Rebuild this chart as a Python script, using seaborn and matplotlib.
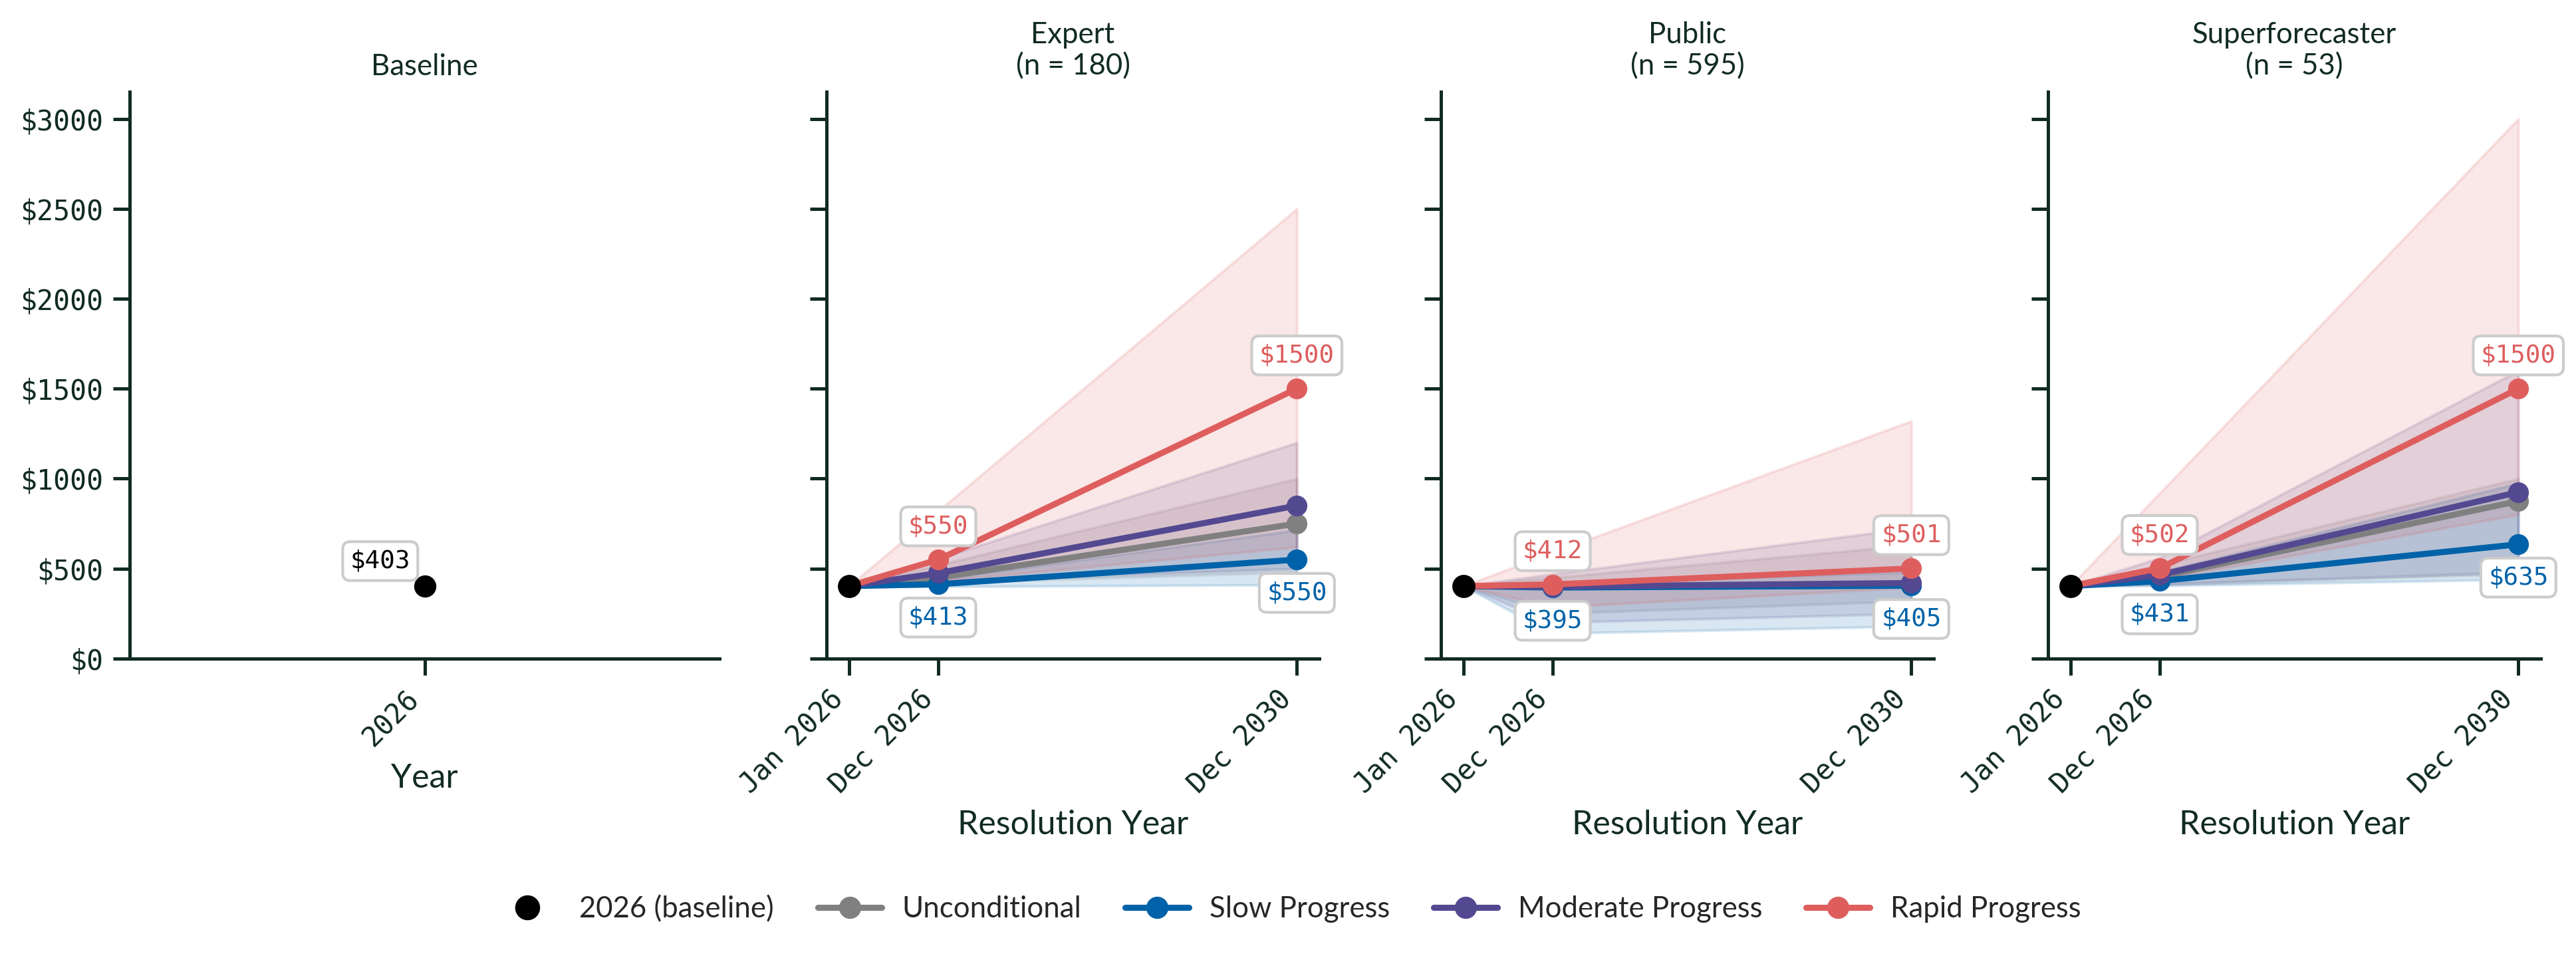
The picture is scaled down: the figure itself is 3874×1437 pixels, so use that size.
"""Forecast panels: baseline price and scenario forecasts per forecaster group."""
import matplotlib
matplotlib.use("Agg")
import matplotlib.pyplot as plt
import matplotlib.ticker as mticker
from matplotlib.lines import Line2D
import pandas as pd
import seaborn as sns

TEXT = "#112B24"
BOX_EDGE = "#CCCCCC"
SANS = "Lato"
MONO = "DejaVu Sans Mono"

SCENARIOS = ["Unconditional", "Slow Progress", "Moderate Progress", "Rapid Progress"]
COLORS = ["#808080", "#0062A8", "#534991", "#DE5E5E"]
DATES = ["2026-01-01", "2026-12-31", "2030-12-31"]
DATE_LABELS = ["Jan 2026", "Dec 2026", "Dec 2030"]
BASELINE_YEAR = 2026
BASELINE_PRICE = 403
GROUPS = ["Expert", "Public", "Superforecaster"]
GROUP_N = [180, 595, 53]
Y_TICKS = [0, 500, 1000, 1500, 2000, 2500, 3000]

# rows follow SCENARIOS, columns follow DATES
EXPERT_MEDIAN = [[403, 450, 750], [403, 413, 550], [403, 475, 850], [403, 550, 1500]]
EXPERT_LOW = [[403, 420, 480], [403, 400, 410], [403, 430, 500], [403, 430, 620]]
EXPERT_HIGH = [[403, 520, 1000], [403, 440, 715], [403, 555, 1200], [403, 820, 2500]]

PUBLIC_MEDIAN = [[403, 400, 410], [403, 395, 405], [403, 400, 420], [403, 412, 501]]
PUBLIC_LOW = [[403, 250, 320], [403, 140, 180], [403, 200, 250], [403, 285, 395]]
PUBLIC_HIGH = [[403, 450, 630], [403, 420, 480], [403, 470, 725], [403, 590, 1320]]

SUPER_MEDIAN = [[403, 455, 875], [403, 431, 635], [403, 465, 925], [403, 502, 1500]]
SUPER_LOW = [[403, 410, 470], [403, 405, 440], [403, 415, 480], [403, 440, 800]]
SUPER_HIGH = [[403, 520, 1000], [403, 480, 975], [403, 560, 1600], [403, 920, 3000]]

BOTTOM = 0.3111
HEIGHT = 0.5929
PANEL_LEFTS = [0.05034, 0.32086, 0.55937, 0.79504]
PANEL_WIDTHS = [0.22896, 0.19127, 0.19127, 0.19127]


def _style_axis(ax):
    sns.despine(ax=ax)
    for side in ("left", "bottom"):
        ax.spines[side].set_color(TEXT)
        ax.spines[side].set_linewidth(1.2)
    ax.tick_params(axis="both", left=True, bottom=True, length=6, width=1.2,
                   color=TEXT, labelcolor=TEXT, labelsize=10)
    ax.set_ylim(0, 3150)
    ax.set_yticks(Y_TICKS)
    ax.yaxis.set_major_formatter(mticker.FuncFormatter(lambda v, _: f"${v:.0f}"))
    for label in ax.get_xticklabels() + ax.get_yticklabels():
        label.set_fontfamily(MONO)


def _label(ax, x, value, color, dy, dx=0):
    ax.annotate(
        f"${value:.0f}", xy=(x, value), xytext=(dx, dy), textcoords="offset points",
        ha="center", va="center", fontsize=9, family=MONO, color=color, zorder=6,
        bbox=dict(boxstyle="round,pad=0.3", fc="white", ec=BOX_EDGE, lw=1)
    )


def _baseline_panel(ax):
    sns.scatterplot(x=[BASELINE_YEAR], y=[BASELINE_PRICE], color="black", s=64,
                    linewidth=0, zorder=5, ax=ax)
    _label(ax, BASELINE_YEAR, BASELINE_PRICE, "black", dy=9, dx=-16)
    ax.set_xlim(BASELINE_YEAR - 0.5, BASELINE_YEAR + 0.5)
    ax.set_xticks([BASELINE_YEAR])
    ax.set_xticklabels([str(BASELINE_YEAR)], rotation=45, ha="right")
    ax.set_title("Baseline", fontsize=10.5, color=TEXT, family=SANS)
    ax.set_xlabel("Year", fontsize=12, color=TEXT, family=SANS)
    ax.set_ylabel("")
    _style_axis(ax)


def _forecast_panel(ax, group, n, median, low, high):
    dates = pd.to_datetime(DATES)
    for color, lo, hi in zip(COLORS, low, high):
        ax.fill_between(dates, lo, hi, color=color, alpha=0.15, linewidth=1)
    for color, m in zip(COLORS, median):
        sns.lineplot(x=dates, y=m, color=color, marker="o", markersize=7.5,
                     markeredgewidth=0, linewidth=2.2, ax=ax)
    sns.scatterplot(x=[dates[0]], y=[BASELINE_PRICE], color="black", s=70,
                    linewidth=0, zorder=5, ax=ax)
    slow, rapid = median[1], median[3]
    for i in (1, 2):
        _label(ax, dates[i], rapid[i], COLORS[3], dy=12)
        _label(ax, dates[i], slow[i], COLORS[1], dy=-12)
    ax.set_xticks(dates)
    ax.set_xticklabels(DATE_LABELS, rotation=45, ha="right")
    ax.set_title(f"{group}\n(n = {n})", fontsize=10.5, color=TEXT, family=SANS)
    ax.set_xlabel("Resolution Year", fontsize=12, color=TEXT, family=SANS)
    ax.set_ylabel("")
    _style_axis(ax)
    ax.tick_params(axis="y", labelleft=False)


def main():
    sns.set_theme(style="white")
    plt.rcParams["font.family"] = [SANS, "DejaVu Sans"]
    fig = plt.figure(figsize=(3874 / 300, 1437 / 300), dpi=300)
    axes = [fig.add_axes([left, BOTTOM, width, HEIGHT])
            for left, width in zip(PANEL_LEFTS, PANEL_WIDTHS)]

    _baseline_panel(axes[0])
    panels = [
        (EXPERT_MEDIAN, EXPERT_LOW, EXPERT_HIGH),
        (PUBLIC_MEDIAN, PUBLIC_LOW, PUBLIC_HIGH),
        (SUPER_MEDIAN, SUPER_LOW, SUPER_HIGH),
    ]
    for ax, group, n, (median, low, high) in zip(axes[1:], GROUPS, GROUP_N, panels):
        _forecast_panel(ax, group, n, median, low, high)

    handles = [Line2D([], [], color="black", marker="o", linestyle="none", markersize=8)]
    handles += [Line2D([], [], color=c, marker="o", markersize=7, linewidth=2.2) for c in COLORS]
    fig.legend(handles, ["2026 (baseline)"] + SCENARIOS, loc="center",
               bbox_to_anchor=(0.5, 0.049), ncol=5, frameon=False,
               prop={"family": SANS, "size": 10.5}, handlelength=2.2,
               columnspacing=1.5, handletextpad=0.7)
    fig.savefig("out.png", dpi=300)


if __name__ == "__main__":
    main()
